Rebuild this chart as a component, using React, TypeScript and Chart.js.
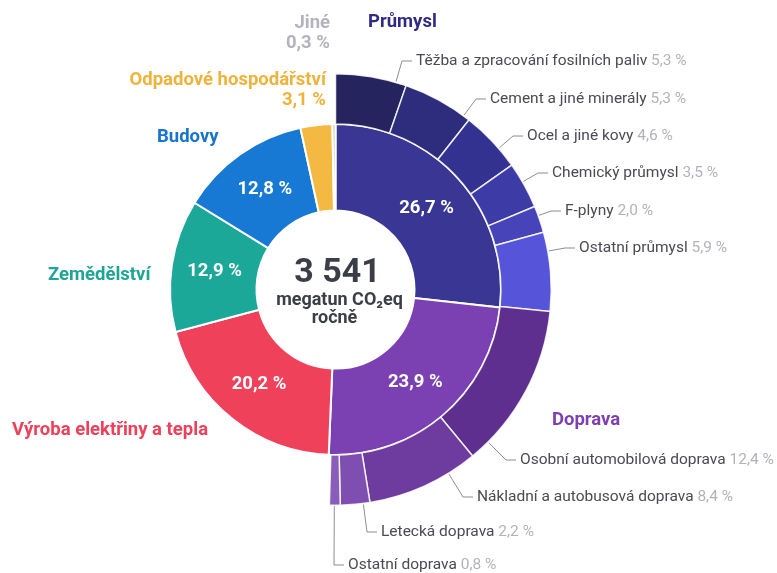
import React, { useEffect, useRef } from 'react';
import { Chart, registerables } from 'chart.js';
Chart.register(...registerables);

// ---- data ----
const categories = ['Průmysl', 'Doprava', 'Výroba elektřiny a tepla', 'Zemědělství', 'Budovy', 'Odpadové hospodářství', 'Jiné'];
const categoryValues = [26.7, 23.9, 20.2, 12.9, 12.8, 3.1, 0.3];
const subcategories = [
  'Těžba a zpracování fosilních paliv',
  'Cement a jiné minerály',
  'Ocel a jiné kovy',
  'Chemický průmysl',
  'F-plyny',
  'Ostatní průmysl',
  'Osobní automobilová doprava',
  'Nákladní a autobusová doprava',
  'Letecká doprava',
  'Ostatní doprava',
];
const subValues = [5.3, 5.3, 4.6, 3.5, 2.0, 5.9, 12.4, 8.4, 2.2, 0.8];
const totalValue = '3 541';
const totalUnit = 'megatun CO₂eq';
const totalPeriod = 'ročně';

// ---- style ----
const FONT = 'Roboto, "Noto Sans", sans-serif';
const categoryColors = ['#3a3794', '#7b41b3', '#f0415b', '#1ba899', '#1779d3', '#f4b942', '#c2c2cc'];
const categoryTextColors = ['#2f2b85', '#7e3fb5', '#ee4059', '#1ea595', '#1775cc', '#efb33c', '#b3b3bd'];
const subColors = ['#26245e', '#2e2c7c', '#343290', '#3d3ba6', '#4644b8', '#5654d8', '#5e2f8e', '#6e3b9f', '#7e4eb0', '#8b5dbb'];

// label layout: [x, y, align] for category names (value line below where needed)
const categoryLabelPos: [number, number, CanvasTextAlign][] = [
  [368, 22, 'left'],
  [552, 420, 'left'],
  [12, 430, 'left'],
  [48, 275, 'left'],
  [157, 137, 'left'],
  [326, 80, 'right'],
  [330, 23, 'right'],
];
const categoryValueUnder = [false, false, false, false, false, true, true];
// sub label text start positions
const subLabelPos: [number, number][] = [
  [416, 61],
  [490, 99],
  [527, 136],
  [552, 173],
  [565, 211],
  [579, 248],
  [520, 460],
  [477, 497],
  [381, 532],
  [348, 565],
];

const fmt = (v: number) => v.toFixed(1).replace('.', ',') + ' %';

const labelsPlugin = {
  id: 'sunburstLabels',
  afterDraw(chart: any) {
    const ctx: CanvasRenderingContext2D = chart.ctx;
    const outerMeta = chart.getDatasetMeta(0);
    const innerMeta = chart.getDatasetMeta(1);
    ctx.save();
    ctx.textBaseline = 'middle';

    // inner percentages
    innerMeta.data.forEach((arc: any, i: number) => {
      if (i > 4) return;
      const p = arc.tooltipPosition();
      ctx.font = `bold 18.5px ${FONT}`;
      ctx.fillStyle = '#ffffff';
      ctx.textAlign = 'center';
      ctx.fillText(fmt(categoryValues[i]), p.x, p.y);
    });

    // category labels
    categories.forEach((name, i) => {
      const [x, y, align] = categoryLabelPos[i];
      ctx.font = `bold 18.5px ${FONT}`;
      ctx.fillStyle = categoryTextColors[i];
      ctx.textAlign = align;
      ctx.fillText(name, x, y);
      if (categoryValueUnder[i]) ctx.fillText(fmt(categoryValues[i]), x, y + 20);
    });

    // sub labels with leader lines
    ctx.font = `15.5px ${FONT}`;
    subcategories.forEach((name, i) => {
      const arc = outerMeta.data[i];
      const { x, y, startAngle, endAngle, outerRadius } = arc.getProps(['x', 'y', 'startAngle', 'endAngle', 'outerRadius'], true);
      const [tx, ty] = subLabelPos[i];
      const ex = tx - 14;
      let a = Math.atan2(ty - y, ex - x);
      while (a < startAngle - Math.PI) a += Math.PI * 2;
      a = Math.min(Math.max(a, startAngle), endAngle);
      const ax = x + Math.cos(a) * (outerRadius + 1);
      const ay = y + Math.sin(a) * (outerRadius + 1);
      ctx.strokeStyle = '#8d8d94';
      ctx.lineWidth = 1;
      ctx.beginPath();
      ctx.moveTo(ax, ay);
      ctx.lineTo(ex, ty);
      ctx.lineTo(tx - 4, ty);
      ctx.stroke();
      ctx.textAlign = 'left';
      ctx.fillStyle = '#4a4a53';
      ctx.fillText(name, tx, ty);
      const w = ctx.measureText(name + ' ').width;
      ctx.fillStyle = '#b2b2bc';
      ctx.fillText(fmt(subValues[i]), tx + w, ty);
    });

    // center text
    const cx = innerMeta.data[0].x;
    const cy = innerMeta.data[0].y;
    ctx.textAlign = 'center';
    ctx.fillStyle = '#3c3e47';
    ctx.font = `bold 34px ${FONT}`;
    ctx.fillText(totalValue, cx + 2, cy - 16);
    ctx.font = `bold 18px ${FONT}`;
    ctx.fillText(totalUnit, cx + 4, cy + 11);
    ctx.fillText(totalPeriod, cx - 1, cy + 29);
    ctx.restore();
  },
};

export default function App() {
  const ref = useRef<HTMLCanvasElement>(null);
  useEffect(() => {
    document.body.style.margin = '0';
    const catTotal = categoryValues.reduce((s, v) => s + v, 0);
    const subTotal = subValues.reduce((s, v) => s + v, 0);
    const rest = catTotal - subTotal;
    const chart = new Chart(ref.current!, {
      type: 'doughnut',
      data: {
        labels: [...subcategories, ''],
        datasets: [
          {
            data: [...subValues, rest],
            backgroundColor: [...subColors, 'rgba(0,0,0,0)'],
            borderColor: [...subColors.map(() => 'rgba(255,255,255,0.85)'), 'rgba(0,0,0,0)'],
            borderWidth: [...subColors.map(() => 1.5), 0],
            weight: 50,
          } as any,
          {
            data: categoryValues,
            backgroundColor: categoryColors,
            borderColor: '#ffffff',
            borderWidth: 2,
            weight: 86,
          } as any,
        ],
      },
      options: {
        responsive: false,
        animation: false,
        events: [],
        cutout: 79,
        layout: { padding: { left: 119, right: 225, top: 73, bottom: 67 } },
        plugins: { legend: { display: false }, tooltip: { enabled: false } },
      } as any,
      plugins: [labelsPlugin],
    });
    return () => chart.destroy();
  }, []);
  return (
    <div style={{ width: 777, height: 573, background: '#fff' }}>
      <canvas ref={ref} width={777} height={573} />
    </div>
  );
}
